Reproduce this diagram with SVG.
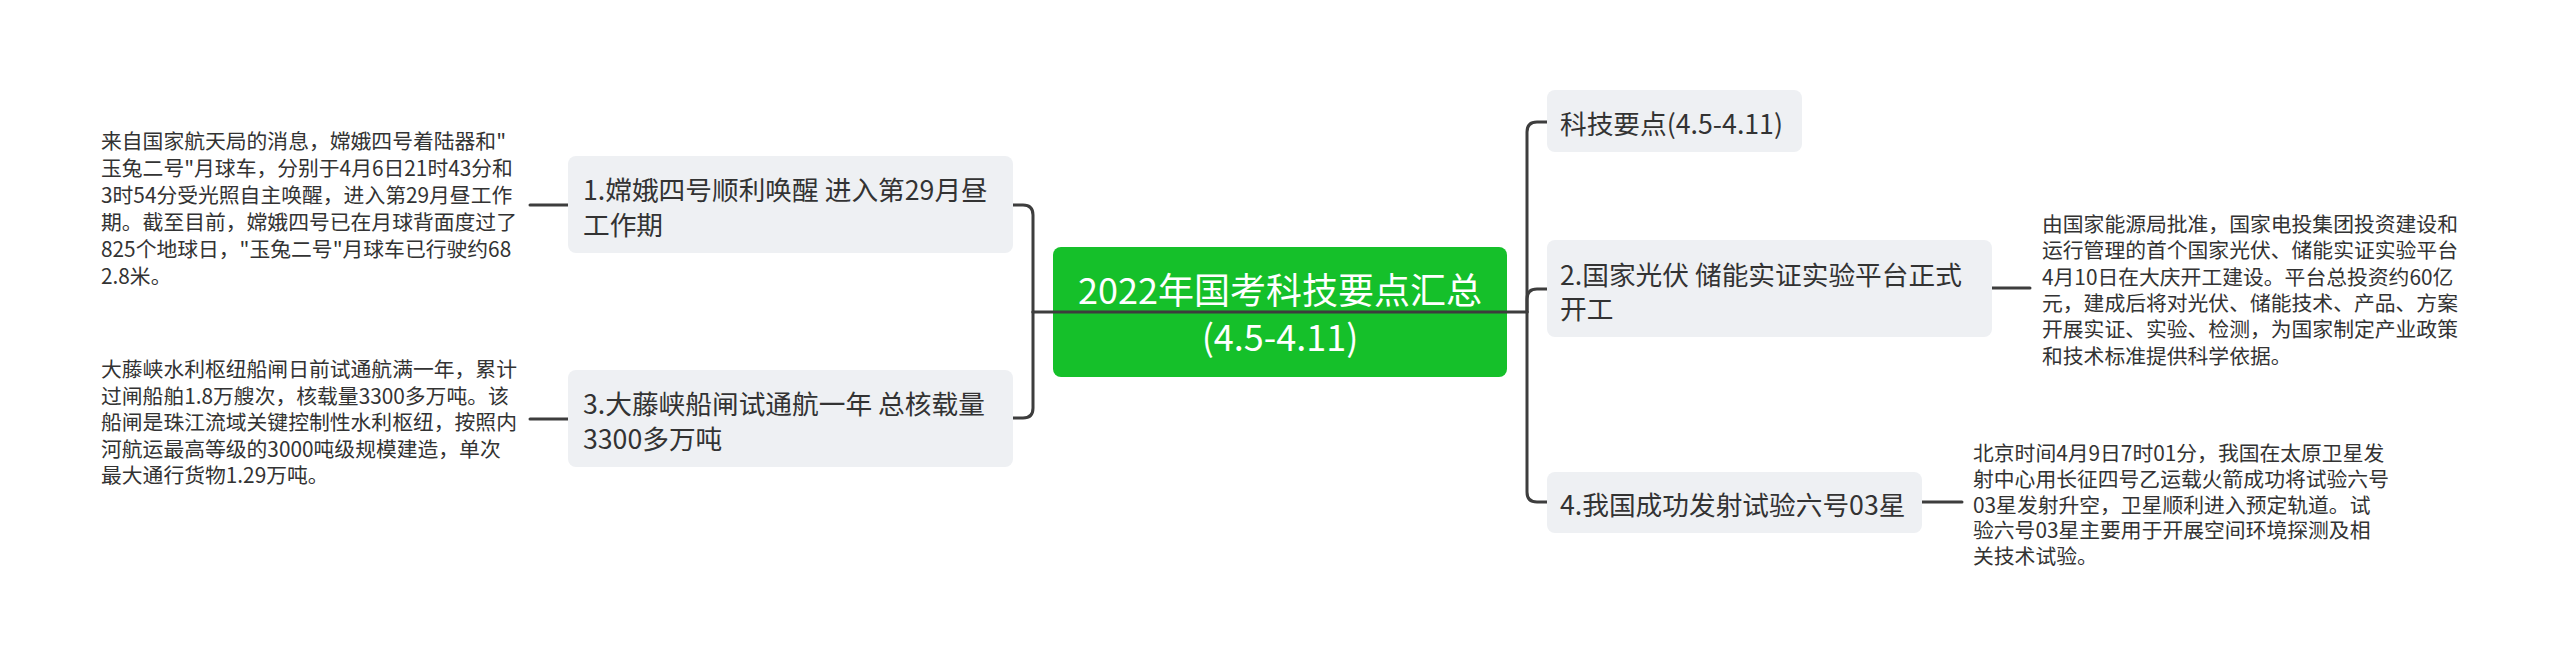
<svg xmlns="http://www.w3.org/2000/svg" width="2560" height="670" viewBox="0 0 2560 670">
<style>
.bg{fill:#ffffff}
.node{fill:#EEF0F3}
.root{fill:#15C02A}
.t{font-family:"Noto Sans CJK SC","Noto Sans",sans-serif;fill:#333333;dominant-baseline:central}
.nt{font-size:26.7px}
.rt{font-size:36px;fill:#ffffff;text-anchor:middle}
.dt{font-size:20.8px}
.c{fill:none;stroke:#3d3d3d;stroke-width:3;stroke-linecap:round;stroke-linejoin:round}
</style>
<rect class="bg" x="0" y="0" width="2560" height="670"/>

<g id="root">
<rect class="root" x="1053" y="247" width="454" height="130" rx="8"/>
<text class="t rt" x="1280" y="288">2022年国考科技要点汇总</text>
<text class="t rt" x="1280" y="335">(4.5-4.11)</text>
</g>

<g id="connectors">
<path class="c" d="M1033 312 H1527"/>
<path class="c" d="M1033 312 V215 Q1033 205 1023 205 H1013"/>
<path class="c" d="M1033 312 V408 Q1033 418 1023 418 H1013"/>
<path class="c" d="M1527 312 V132 Q1527 122 1537 122 H1547"/>
<path class="c" d="M1527 312 V299 Q1527 289 1537 289 H1547"/>
<path class="c" d="M1527 312 V492 Q1527 502 1537 502 H1547"/>
<path class="c" d="M568 205 H530"/>
<path class="c" d="M568 419 H530"/>
<path class="c" d="M1992 288 H2030"/>
<path class="c" d="M1922 502 H1962"/>
</g>

<g id="n1">
<rect class="node" x="568" y="156" width="445" height="97" rx="8"/>
<text class="t nt" x="583" y="188">1.嫦娥四号顺利唤醒 进入第29月昼</text>
<text class="t nt" x="583" y="223">工作期</text>
</g>
<g id="n1-desc">
<text class="t dt" x="101" y="140">来自国家航天局的消息，嫦娥四号着陆器和"</text>
<text class="t dt" x="101" y="167">玉兔二号"月球车，分别于4月6日21时43分和</text>
<text class="t dt" x="101" y="194">3时54分受光照自主唤醒，进入第29月昼工作</text>
<text class="t dt" x="101" y="221">期。截至目前，嫦娥四号已在月球背面度过了</text>
<text class="t dt" x="101" y="248">825个地球日，"玉兔二号"月球车已行驶约68</text>
<text class="t dt" x="101" y="275">2.8米。</text>
</g>

<g id="n3">
<rect class="node" x="568" y="370" width="445" height="97" rx="8"/>
<text class="t nt" x="583" y="402">3.大藤峡船闸试通航一年 总核载量</text>
<text class="t nt" x="583" y="437">3300多万吨</text>
</g>
<g id="n3-desc">
<text class="t dt" x="101" y="368">大藤峡水利枢纽船闸日前试通航满一年，累计</text>
<text class="t dt" x="101" y="394.5">过闸船舶1.8万艘次，核载量3300多万吨。该</text>
<text class="t dt" x="101" y="421">船闸是珠江流域关键控制性水利枢纽，按照内</text>
<text class="t dt" x="101" y="447.5">河航运最高等级的3000吨级规模建造，单次</text>
<text class="t dt" x="101" y="474">最大通行货物1.29万吨。</text>
</g>

<g id="n0">
<rect class="node" x="1547" y="90" width="255" height="62" rx="8"/>
<text class="t nt" x="1560" y="122">科技要点(4.5-4.11)</text>
</g>

<g id="n2">
<rect class="node" x="1547" y="240" width="445" height="97" rx="8"/>
<text class="t nt" x="1560" y="273">2.国家光伏 储能实证实验平台正式</text>
<text class="t nt" x="1560" y="307">开工</text>
</g>
<g id="n2-desc">
<text class="t dt" x="2042" y="223">由国家能源局批准，国家电投集团投资建设和</text>
<text class="t dt" x="2042" y="249.3">运行管理的首个国家光伏、储能实证实验平台</text>
<text class="t dt" x="2042" y="275.6">4月10日在大庆开工建设。平台总投资约60亿</text>
<text class="t dt" x="2042" y="301.9">元，建成后将对光伏、储能技术、产品、方案</text>
<text class="t dt" x="2042" y="328.2">开展实证、实验、检测，为国家制定产业政策</text>
<text class="t dt" x="2042" y="354.5">和技术标准提供科学依据。</text>
</g>

<g id="n4">
<rect class="node" x="1547" y="472" width="375" height="61" rx="8"/>
<text class="t nt" x="1560" y="503">4.我国成功发射试验六号03星</text>
</g>
<g id="n4-desc">
<text class="t dt" x="1973" y="452">北京时间4月9日7时01分，我国在太原卫星发</text>
<text class="t dt" x="1973" y="477.8">射中心用长征四号乙运载火箭成功将试验六号</text>
<text class="t dt" x="1973" y="503.6">03星发射升空，卫星顺利进入预定轨道。试</text>
<text class="t dt" x="1973" y="529.4">验六号03星主要用于开展空间环境探测及相</text>
<text class="t dt" x="1973" y="555.2">关技术试验。</text>
</g>
</svg>
